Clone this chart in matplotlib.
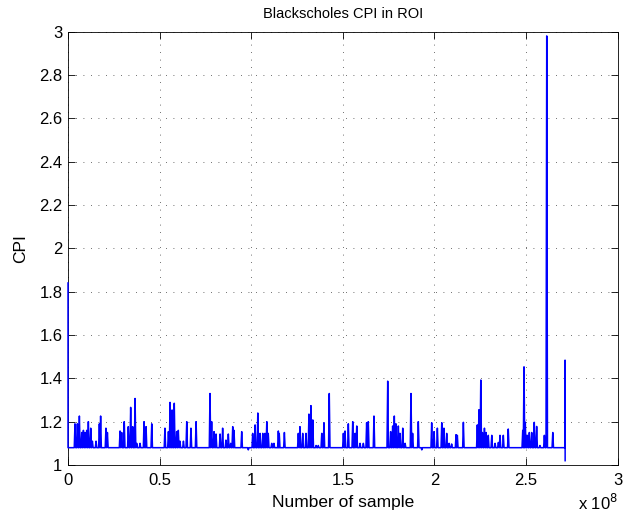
import numpy as np
import matplotlib
matplotlib.use('Agg')
import matplotlib.pyplot as plt
from matplotlib.ticker import FuncFormatter

plt.rcParams['font.family'] = ['Liberation Sans', 'DejaVu Sans']

# CPI values (sample index in units of 1e8)
baseline_cpi = 1.08
start_cpi = 1.84
spike_pos = [0.038, 0.051, 0.062, 0.075, 0.084, 0.093, 0.102, 0.111, 0.124, 0.133, 0.153, 0.171, 0.178,
             0.207, 0.215, 0.284, 0.293, 0.307, 0.329, 0.342, 0.353, 0.366, 0.375, 0.393, 0.415, 0.426,
             0.457, 0.529, 0.548, 0.557, 0.568, 0.580, 0.593, 0.602, 0.611, 0.630, 0.648, 0.671, 0.699,
             0.775, 0.784, 0.797, 0.808, 0.830, 0.844, 0.862, 0.875, 0.888, 0.899, 0.906, 0.948, 0.984,
             1.008, 1.021, 1.036, 1.048, 1.063, 1.075, 1.085, 1.093, 1.112, 1.124, 1.148, 1.153, 1.181,
             1.257, 1.266, 1.281, 1.299, 1.315, 1.326, 1.336, 1.354, 1.366, 1.385, 1.397, 1.426,
             1.503, 1.512, 1.530, 1.554, 1.567, 1.576, 1.594, 1.612, 1.630, 1.639, 1.670, 1.745,
             1.761, 1.772, 1.781, 1.790, 1.803, 1.812, 1.827, 1.840, 1.872, 1.881, 1.912, 1.931,
             1.985, 1.998, 2.016, 2.040, 2.052, 2.067, 2.080, 2.094, 2.118, 2.125, 2.158,
             2.234, 2.243, 2.253, 2.262, 2.273, 2.282, 2.294, 2.313, 2.331, 2.349, 2.358, 2.376, 2.403,
             2.482, 2.489, 2.496, 2.507, 2.518, 2.531, 2.545, 2.558, 2.576, 2.600, 2.613, 2.646]
spike_cpi = [1.19, 1.19, 1.226, 1.15, 1.16, 1.15, 1.16, 1.20, 1.17, 1.11, 1.11, 1.19, 1.226,
             1.17, 1.15, 1.157, 1.15, 1.20, 1.177, 1.266, 1.177, 1.307, 1.10, 1.10, 1.20, 1.177,
             1.19, 1.17, 1.154, 1.289, 1.254, 1.285, 1.154, 1.16, 1.11, 1.11, 1.20, 1.17, 1.20,
             1.33, 1.20, 1.154, 1.143, 1.143, 1.17, 1.115, 1.143, 1.10, 1.177, 1.16, 1.154, 1.07,
             1.146, 1.185, 1.24, 1.146, 1.146, 1.146, 1.20, 1.146, 1.10, 1.10, 1.157, 1.146, 1.15,
             1.146, 1.177, 1.146, 1.146, 1.235, 1.274, 1.208, 1.09, 1.09, 1.146, 1.195, 1.33,
             1.146, 1.157, 1.19, 1.20, 1.146, 1.18, 1.10, 1.10, 1.195, 1.20, 1.226, 1.387,
             1.154, 1.18, 1.226, 1.19, 1.18, 1.146, 1.17, 1.10, 1.33, 1.146, 1.20, 1.07,
             1.195, 1.154, 1.17, 1.195, 1.17, 1.146, 1.10, 1.097, 1.14, 1.137, 1.197,
             1.185, 1.255, 1.392, 1.15, 1.17, 1.15, 1.137, 1.137, 1.10, 1.104, 1.137, 1.137, 1.166,
             1.16, 1.453, 1.197, 1.137, 1.15, 1.15, 1.197, 1.178, 1.09, 1.137, 2.98, 1.15]
end_pos = 2.713
end_high = 1.484
end_low = 1.02

# build the sample trace
xs = [0.0, 0.0, 0.006]
ys = [start_cpi, baseline_cpi, baseline_cpi]
half_w = 0.004
for p, c in zip(spike_pos, spike_cpi):
    xs += [p - half_w, p, p + half_w]
    ys += [baseline_cpi, c, baseline_cpi]
xs += [end_pos, end_pos, end_pos + 0.0005]
ys += [baseline_cpi, end_high, end_low]
xs = np.array(xs) * 1e8
ys = np.array(ys)

fig = plt.figure(figsize=(6.24, 5.18), dpi=100)
ax = fig.add_axes([0.109, 0.1023, 0.8808, 0.8367])
ax.plot(xs, ys, color='#0000ff', lw=1.1, clip_on=False, zorder=5)

ax.set_xlim(0, 3e8)
ax.set_ylim(1, 3)
ax.set_xticks(np.arange(0, 3.01e8, 0.5e8))
ax.set_yticks(np.arange(1, 3.01, 0.2))
ax.xaxis.set_major_formatter(FuncFormatter(lambda v, _: f'{v / 1e8:g}'))
ax.yaxis.set_major_formatter(FuncFormatter(lambda v, _: f'{v:g}'))
ax.tick_params(direction='in', length=5, width=0.6, labelsize=12, top=True, right=True, pad=4)
ax.tick_params(axis='x', pad=6)
ax.grid(True, linestyle=(0, (1, 8)), color='0.25', lw=0.6)
for s in ax.spines.values():
    s.set_linewidth(0.6)

ax.set_title('Blackscholes CPI in ROI', fontsize=10.5, pad=10)
ax.set_xlabel('Number of sample', fontsize=12.5, labelpad=5)
ax.set_ylabel('CPI', fontsize=12.5, labelpad=8)
fig.text(618 / 624, 1 - 503 / 518, 'x 10$^{8}$', ha='right', va='center', fontsize=12)

fig.savefig('out.png', dpi=100)
